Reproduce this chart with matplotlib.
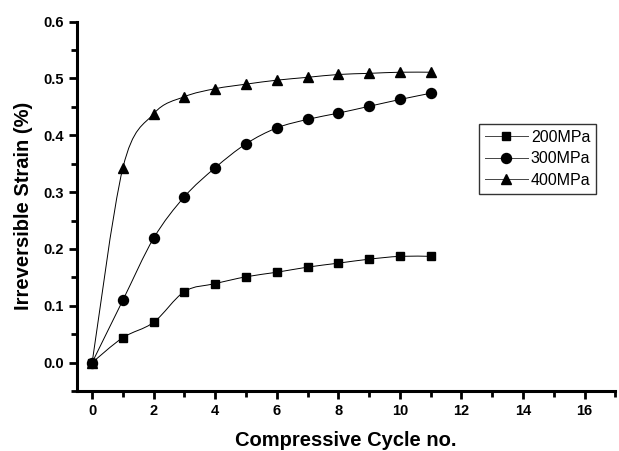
import matplotlib
matplotlib.use('Agg')
import matplotlib.pyplot as plt
from matplotlib.path import Path
from matplotlib.patches import PathPatch
from matplotlib.ticker import MultipleLocator
import numpy as np

plt.rcParams['font.family'] = ['Liberation Sans', 'DejaVu Sans']

# 데이터
cycles = [0, 1, 2, 3, 4, 5, 6, 7, 8, 9, 10, 11]
strain_200 = [0.0, 0.044, 0.071, 0.125, 0.139, 0.151, 0.159, 0.168, 0.175, 0.182, 0.187, 0.187]
strain_300 = [0.0, 0.110, 0.219, 0.292, 0.343, 0.385, 0.413, 0.428, 0.439, 0.451, 0.463, 0.474]
strain_400 = [0.0, 0.343, 0.438, 0.468, 0.482, 0.490, 0.497, 0.502, 0.507, 0.509, 0.511, 0.511]
labels = ['200MPa', '300MPa', '400MPa']
markers = ['s', 'o', '^']
msizes = [6.3, 7.2, 7.5]


def smooth_path(x, y, t=0.5):
    # 점들을 지나는 베지어 곡선 (Catmull-Rom 방식)
    x = np.asarray(x, float)
    y = np.asarray(y, float)
    verts = [(x[0], y[0])]
    codes = [Path.MOVETO]
    n = len(x)
    for i in range(n - 1):
        x0, y0 = (x[i - 1], y[i - 1]) if i > 0 else (x[i], y[i])
        x3, y3 = (x[i + 2], y[i + 2]) if i + 2 < n else (x[i + 1], y[i + 1])
        c1 = (x[i] + (x[i + 1] - x0) * t / 3, y[i] + (y[i + 1] - y0) * t / 3)
        c2 = (x[i + 1] - (x3 - x[i]) * t / 3, y[i + 1] - (y3 - y[i]) * t / 3)
        verts += [c1, c2, (x[i + 1], y[i + 1])]
        codes += [Path.CURVE4] * 3
    return Path(verts, codes)


fig = plt.figure(figsize=(6.19, 4.51), dpi=100)
ax = fig.add_axes([0.124, 0.133, 0.87, 0.819])

for ys, mk, ms in zip([strain_200, strain_300, strain_400], markers, msizes):
    ax.add_patch(PathPatch(smooth_path(cycles, ys), facecolor='none',
                           edgecolor='black', lw=0.7))
    ax.plot(cycles, ys, linestyle='none', color='black', marker=mk,
            markersize=ms)

# 범례용 핸들
handles = [plt.Line2D([], [], color='#444444', lw=0.7, marker=m,
                      markerfacecolor='black', markeredgecolor='black',
                      markersize=s) for m, s in zip(markers, msizes)]

ax.set_xlim(-0.5, 17)
ax.set_ylim(-0.05, 0.6)
ax.xaxis.set_major_locator(MultipleLocator(2))
ax.xaxis.set_minor_locator(MultipleLocator(1))
ax.yaxis.set_minor_locator(MultipleLocator(0.05))
ax.set_yticks(np.arange(0, 0.61, 0.1))
ax.set_yticklabels(['%.1f' % v for v in np.arange(0, 0.61, 0.1)])

for s in ['top', 'right']:
    ax.spines[s].set_visible(False)
for s in ['left', 'bottom']:
    ax.spines[s].set_linewidth(2.2)

ax.tick_params(which='major', direction='out', length=6, width=2,
               labelsize=10.5)
ax.tick_params(which='minor', direction='out', length=4, width=2)
for lbl in ax.get_xticklabels() + ax.get_yticklabels():
    lbl.set_fontweight('bold')

ax.set_xlabel('Compressive Cycle no.', fontsize=14.5, fontweight='bold', labelpad=9)
ax.set_ylabel('Irreversible Strain (%)', fontsize=14.5, fontweight='bold', labelpad=7)

leg = ax.legend(handles, labels, loc='upper left', bbox_to_anchor=(0.747, 0.723),
                borderaxespad=0, fontsize=11.5, frameon=True, fancybox=False,
                edgecolor='black', handlelength=2.7, handletextpad=0.2,
                borderpad=0.35, labelspacing=0.42)
leg.get_frame().set_linewidth(1.0)

plt.savefig('out.png', dpi=100)
